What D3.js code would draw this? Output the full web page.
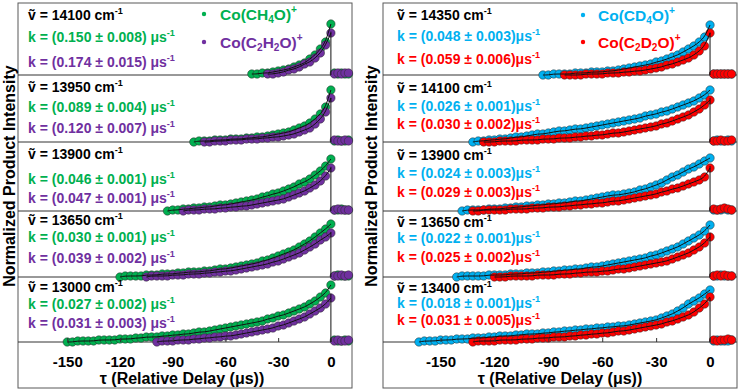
<!DOCTYPE html>
<html>
<head>
<meta charset="utf-8">
<script src="https://cdnjs.cloudflare.com/ajax/libs/d3/7.8.5/d3.min.js"></script>
<style>
body { margin: 0; background: #fff; }
svg { display: block; font-family: "Liberation Sans", Arial, sans-serif; font-weight: bold; }
</style>
</head>
<body>
<svg id="svg1" width="740" height="391"></svg>
<script>
// ---- data ----
var tickValues = [-150, -120, -90, -60, -30, 0];
var step = 3; // delay step (us), last point of every trace sits at tau = 0

var leftWaves = ['14100', '13950', '13900', '13650', '13000'];
var rightWaves = ['14350', '14100', '13900', '13650', '13400'];

var leftK1 = ['0.150 ± 0.008', '0.089 ± 0.004', '0.046 ± 0.001', '0.030 ± 0.001', '0.027 ± 0.002'];
var leftK2 = ['0.174 ± 0.015', '0.120 ± 0.007', '0.047 ± 0.001', '0.039 ± 0.002', '0.031 ± 0.003'];
var rightK1 = ['0.048 ± 0.003', '0.026 ± 0.001', '0.024 ± 0.003', '0.022 ± 0.001', '0.018 ± 0.001'];
var rightK2 = ['0.059 ± 0.006', '0.030 ± 0.002', '0.029 ± 0.003', '0.025 ± 0.002', '0.031 ± 0.005'];

var leftLegend = [
    [['Co(CH', 'n'], ['4', 'sub'], ['O)', 'n'], ['+', 'sup']],
    [['Co(C', 'n'], ['2', 'sub'], ['H', 'n'], ['2', 'sub'], ['O)', 'n'], ['+', 'sup']]
];
var rightLegend = [
    [['Co(CD', 'n'], ['4', 'sub'], ['O)', 'n'], ['+', 'sup']],
    [['Co(C', 'n'], ['2', 'sub'], ['D', 'n'], ['2', 'sub'], ['O)', 'n'], ['+', 'sup']]
];

// Co(CH4O)+ intensities, one trace per wavenumber (top to bottom)
var leftA = [
    [1,1,2,2,3,4,5,6,8,10,12,16,20,26,33,51],
    [0,1,1,1,2,2,2,3,3,3,4,4,5,5,6,7,8,9,10,12,14,16,19,23,28,35,52],
    [0,1,1,2,2,3,3,4,4,5,6,6,7,8,9,10,11,12,14,15,17,18,20,22,24,27,29,32,36,40,45,52],
    [0,1,1,1,1,2,2,2,3,3,3,4,4,5,5,5,6,6,7,8,8,9,10,11,12,13,14,16,17,19,21,23,25,27,30,33,36,40,44,48,53],
    [0,0,1,1,1,1,2,2,2,2,3,3,3,4,4,5,5,5,6,6,7,7,8,8,9,10,10,11,12,13,14,15,16,17,18,19,20,21,23,24,26,27,29,31,33,35,38,41,45,49,57]
];
// Co(C2H2O)+
var leftB = [
    [1,1,2,3,5,6,8,11,13,17,22,30,42],
    [0,0,1,1,1,2,2,2,3,3,3,4,4,5,5,6,7,8,10,12,14,18,23,30,44],
    [0,1,1,1,2,2,2,3,3,4,4,5,5,6,7,8,9,10,11,12,14,16,18,20,23,26,30,35,43],
    [0,1,1,1,1,2,2,2,3,3,3,4,4,5,5,6,6,7,8,9,10,11,12,13,15,16,18,20,22,24,27,30,33,37,40,44],
    [0,1,1,1,2,2,2,3,3,4,4,5,5,6,6,7,8,9,10,11,12,13,14,16,17,19,21,23,25,28,31,34,38,44]
];
// Co(CD4O)+
var rightA = [
    [0,0,1,1,1,1,2,2,2,3,3,3,4,4,5,6,7,8,9,10,11,13,14,16,18,20,23,26,29,33,38,50],
    [0,1,1,2,2,3,3,4,5,5,6,7,8,8,9,10,11,11,12,13,13,14,15,16,17,18,19,20,21,22,23,24,26,27,28,30,31,33,35,37,39,41,44,47,52],
    [0,1,1,1,1,2,2,2,3,3,4,4,5,5,6,6,7,7,8,8,9,10,10,11,12,13,14,15,16,16,17,18,19,21,22,24,26,28,31,34,36,39,42,44,47,50,53],
    [0,1,1,1,1,1,2,2,2,2,3,3,3,4,4,4,5,5,6,6,7,7,8,8,9,10,10,11,12,13,14,15,16,17,18,19,21,22,24,26,28,30,33,36,39,42,46,52],
    [0,1,1,1,2,2,2,3,3,3,4,4,4,5,5,6,6,6,7,7,8,8,8,9,9,10,10,11,11,12,12,13,13,14,14,15,15,16,16,17,18,19,20,21,22,24,26,28,31,34,38,41,44,48,52]
];
// Co(C2D2O)+
var rightB = [
    [0,0,0,0,1,1,1,1,2,2,2,3,3,4,4,5,6,7,8,10,11,13,15,17,20,24,29,42],
    [0,0,0,1,1,1,1,2,2,2,2,3,3,3,4,4,4,5,5,6,6,7,7,8,9,9,10,11,12,13,14,15,16,18,19,21,23,25,27,30,33,37,42],
    [0,0,1,1,1,1,1,2,2,2,2,3,3,3,4,4,4,5,5,6,6,7,7,8,8,9,10,10,11,12,13,14,15,16,17,19,20,22,23,25,27,29,31,34,43],
    [0,0,0,1,1,1,1,1,2,2,2,2,3,3,3,4,4,5,5,5,6,6,7,8,8,9,10,11,12,13,14,15,16,18,20,22,24,27,30,34,40],
    [0,1,1,1,1,2,2,2,2,3,3,3,4,4,4,5,5,5,6,6,7,7,8,8,9,9,10,11,11,12,13,14,15,16,17,18,20,21,23,25,27,30,34,38,45]
];

// points recorded after tau = 0
var leftPostTau = [2, 4, 6, 8, 10];
var rightPostTau = [2, 4, 6, 8, 10, 12];
var leftAPost = [[2,1,2,1,1],[1,2,1,1,2],[1,1,2,1,1],[1,2,1,1,1],[2,1,1,2,1]];
var leftBPost = [[1,2,1,2,2],[2,1,1,2,1],[1,2,1,1,1],[1,1,2,1,2],[1,2,1,1,2]];
var rightAPost = [[1,1,1,1,1,1],[1,2,1,1,2,1],[1,1,1,2,1,1],[1,1,2,1,1,1],[1,2,1,1,1,2]];
var rightBPost = [[1,1,1,1,1,1],[1,1,2,1,1,2],[2,1,2,3,2,1],[1,2,1,2,1,1],[2,1,2,2,3,2]];

// ---- layout ----
var svg = d3.select('svg');
var bands = [3, 75, 142, 211, 277, 342];

var panels = [
    {x0: 18, x1: 352, dom: [-178, 12], textX: 28, legX: 204, legTextX: 220, legY: [14, 42],
     rows: [[12, 34, 59], [12, 32, 53], [12, 37, 56], [9, 26, 47], [10, 27, 46]],
     sep: ' ', yLabX: 9, titleX: 182, colors: ['#00b050', '#7030a0'],
     waves: leftWaves, k1: leftK1, k2: leftK2, legend: leftLegend,
     A: leftA, B: leftB, postTau: leftPostTau, APost: leftAPost, BPost: leftBPost},
    {x0: 383, x1: 737, dom: [-182, 15], textX: 397, legX: 583, legTextX: 598, legY: [15, 42],
     rows: [[12, 33, 56], [13, 31, 49], [13, 31, 50], [11, 27, 46], [11, 26, 43]],
     sep: '', yLabX: 371, titleX: 560, colors: ['#00b0f0', '#ff0000'],
     waves: rightWaves, k1: rightK1, k2: rightK2, legend: rightLegend,
     A: rightA, B: rightB, postTau: rightPostTau, APost: rightAPost, BPost: rightBPost}
];

// text with sub / superscripts
function richText(g, x, y, parts, size, color) {
    var t = g.append('text')
        .attr('x', x).attr('y', y)
        .attr('font-size', size)
        .attr('fill', color);
    var shift = 0;
    parts.forEach(function (p) {
        var target = p[1] === 'sup' ? -size * 0.4 : (p[1] === 'sub' ? size * 0.25 : 0);
        var sp = t.append('tspan').attr('dy', target - shift).text(p[0]);
        if (p[1] !== 'n') sp.attr('font-size', size * 0.65);
        shift = target;
    });
    return t;
}

panels.forEach(function (P) {
    var x = d3.scaleLinear().domain(P.dom).range([P.x0, P.x1]);
    var g = svg.append('g');

    // frame
    g.append('rect')
        .attr('x', P.x0).attr('y', 3)
        .attr('width', P.x1 - P.x0).attr('height', 385)
        .attr('fill', 'none')
        .attr('stroke', '#595959')
        .attr('stroke-width', 1);

    for (var b = 0; b < 5; b++) {
        var top = bands[b], bottom = bands[b + 1];
        var y = d3.scaleLinear().domain([0, 60]).range([bottom, bottom - 60]);

        // baseline / divider
        g.append('line')
            .attr('x1', P.x0).attr('x2', P.x1)
            .attr('y1', bottom).attr('y2', bottom)
            .attr('stroke', '#333').attr('stroke-width', 1);

        var sets = [
            {vals: P.A[b], post: P.APost[b], color: P.colors[0]},
            {vals: P.B[b], post: P.BPost[b], color: P.colors[1]}
        ];
        sets.forEach(function (s) {
            var n = s.vals.length;
            s.pts = s.vals.map(function (v, i) { return [(i - (n - 1)) * step, v]; });
            var post = s.post.map(function (v, i) { return [P.postTau[i], v]; });
            g.append('g').selectAll('circle')
                .data(s.pts.concat(post))
                .enter()
                .append('circle')
                .attr('cx', function (d) { return x(d[0]); })
                .attr('cy', function (d) { return y(d[1]); })
                .attr('r', 4.2)
                .attr('fill', s.color)
                .attr('stroke', '#2b2b2b')
                .attr('stroke-width', 0.5);
        });

        // fit curves
        var line = d3.line()
            .x(function (d) { return x(d[0]); })
            .y(function (d) { return y(d[1]); })
            .curve(d3.curveBasis);
        sets.forEach(function (s) {
            g.append('path')
                .attr('d', line(s.pts))
                .attr('fill', 'none')
                .attr('stroke', '#111')
                .attr('stroke-width', 1);
        });
        var lastMax = d3.max(sets, function (s) { return s.vals[s.vals.length - 1]; });
        g.append('line')
            .attr('x1', x(0)).attr('x2', x(0))
            .attr('y1', y(lastMax * 0.85)).attr('y2', y(0))
            .attr('stroke', '#111').attr('stroke-width', 1);

        // labels
        var r = P.rows[b];
        richText(g, P.textX, top + r[0] + 5, [['\u1E7D = ' + P.waves[b] + ' cm', 'n'], ['-1', 'sup']], 14, '#000');
        richText(g, P.textX, top + r[1] + 5, [['k = (' + P.k1[b] + ')' + P.sep + 'μs', 'n'], ['-1', 'sup']], 14, P.colors[0]);
        richText(g, P.textX, top + r[2] + 5, [['k = (' + P.k2[b] + ')' + P.sep + 'μs', 'n'], ['-1', 'sup']], 14, P.colors[1]);
    }

    // legend
    P.legend.forEach(function (parts, i) {
        g.append('circle')
            .attr('cx', P.legX).attr('cy', P.legY[i])
            .attr('r', 2.2)
            .attr('fill', P.colors[i]);
        richText(g, P.legTextX, P.legY[i] + 5.5, parts, 15.5, P.colors[i]);
    });

    // x axis
    var axis = d3.axisBottom(x)
        .tickValues(tickValues)
        .tickSizeInner(-4)
        .tickSizeOuter(0)
        .tickPadding(14)
        .tickFormat(function (d) { return String(d); });
    var ax = g.append('g')
        .attr('transform', 'translate(0,' + bands[5] + ')')
        .call(axis);
    ax.select('.domain').remove();
    ax.selectAll('.tick line').attr('stroke', '#333');
    ax.selectAll('.tick text')
        .attr('font-size', 15)
        .attr('font-weight', 'bold')
        .attr('font-family', '"Liberation Sans", Arial, sans-serif')
        .attr('fill', '#000');

    g.append('text')
        .attr('x', P.titleX).attr('y', 384)
        .attr('text-anchor', 'middle')
        .attr('font-size', 16)
        .attr('fill', '#000')
        .text('τ (Relative Delay (μs))');

    g.append('text')
        .attr('transform', 'translate(' + (P.yLabX + 6) + ',176) rotate(-90)')
        .attr('text-anchor', 'middle')
        .attr('font-size', 16)
        .attr('fill', '#000')
        .text('Normalized Product Intensity');
});
</script>
</body>
</html>
